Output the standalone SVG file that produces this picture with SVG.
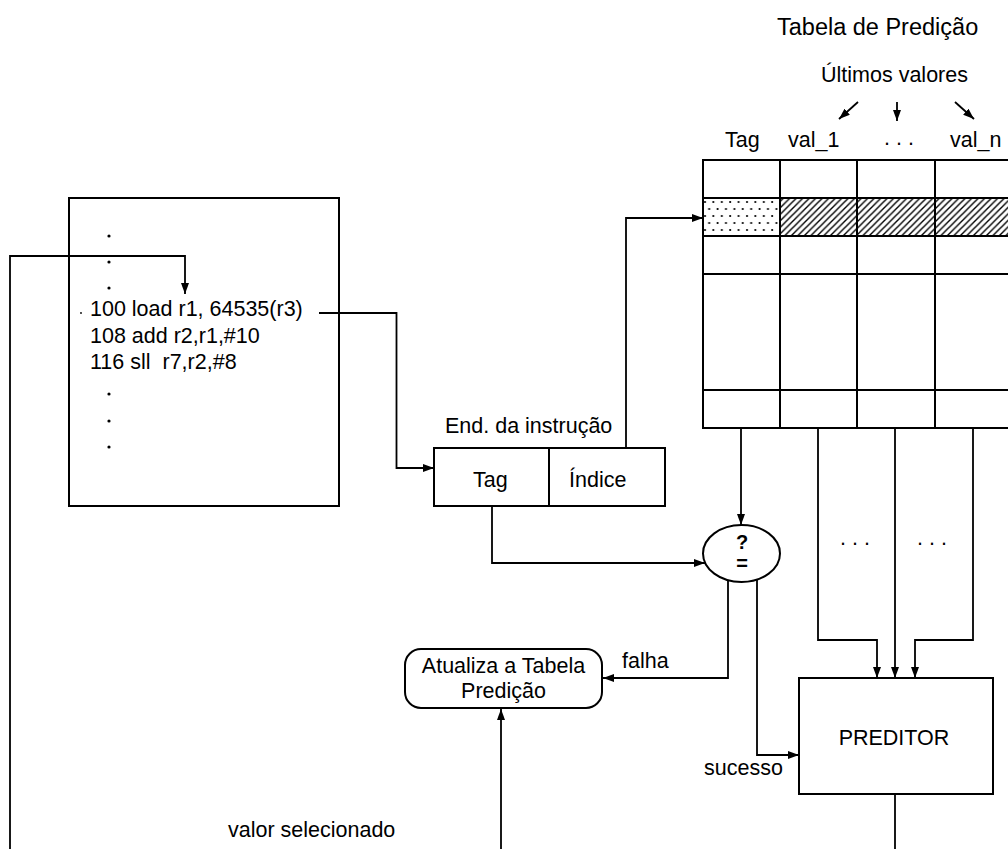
<svg xmlns="http://www.w3.org/2000/svg" width="1008" height="849" viewBox="0 0 1008 849">
<defs>
  <marker id="ah" markerUnits="userSpaceOnUse" markerWidth="11" markerHeight="8" refX="11" refY="4" orient="auto">
    <path d="M0,0 L11,4 L0,8 z" fill="#000"/>
  </marker>
  <pattern id="hatch" patternUnits="userSpaceOnUse" width="6.5" height="6.5">
    <path d="M-1,1 L1,-1 M0,6.5 L6.5,0 M5.5,7.5 L7.5,5.5" stroke="#000" stroke-width="1.4"/>
  </pattern>
  <pattern id="dots" patternUnits="userSpaceOnUse" x="703" y="198" width="8.4" height="14">
    <circle cx="2" cy="4" r="1.1" fill="#000"/>
    <circle cx="6.2" cy="11" r="1.1" fill="#000"/>
  </pattern>
</defs>
<style>
  text { font-family: "Liberation Sans", Arial, sans-serif; font-size: 21.5px; fill: #000; }
  .title { font-size: 23.5px; }
  .mid { text-anchor: middle; }
  .bold { font-weight: bold; font-size: 20px; }
  .box { fill: #fff; stroke: #000; stroke-width: 2; }
  .ln { fill: none; stroke: #000; stroke-width: 2; }
  .conn { fill: none; stroke: #000; stroke-width: 1.8; }
  .arr { marker-end: url(#ah); }
</style>
<rect width="1008" height="849" fill="#fff"/>

<g id="table">
  <text class="title" x="777" y="35">Tabela de Predição</text>
  <text x="821" y="82">Últimos valores</text>
  <text x="725" y="147">Tag</text>
  <text x="788" y="147">val_1</text>
  <text x="884" y="145">. . .</text>
  <text x="950" y="147">val_n</text>
  <rect x="703" y="198" width="77" height="38" fill="url(#dots)"/>
  <rect x="780" y="198" width="240" height="38" fill="url(#hatch)"/>
  <rect class="ln" x="703" y="160" width="320" height="268"/>
  <path class="ln" d="M780,160 V428 M857,160 V428 M935,160 V428 M703,198 H1012 M703,236 H1012 M703,274 H1012 M703,390 H1012"/>
</g>

<g id="code">
  <rect class="box" x="69" y="198" width="270" height="308"/>
  <circle cx="109" cy="236" r="1.6"/>
  <circle cx="109" cy="262" r="1.6"/>
  <circle cx="109" cy="288" r="1.6"/>
  <circle cx="81" cy="313" r="0.9"/>
  <text x="90" y="316">100 load r1, 64535(r3)</text>
  <text x="90" y="342.5">108 add r2,r1,#10</text>
  <text x="90" y="369" xml:space="preserve">116 sll  r7,r2,#8</text>
  <circle cx="109" cy="394" r="1.6"/>
  <circle cx="109" cy="421" r="1.6"/>
  <circle cx="109" cy="447" r="1.6"/>
</g>

<g id="endereco">
  <text x="445" y="433">End. da instrução</text>
  <rect class="box" x="434" y="448" width="231" height="58"/>
  <line class="ln" x1="549" y1="448" x2="549" y2="506"/>
  <text x="473" y="487">Tag</text>
  <text x="569" y="487">Índice</text>
</g>

<g id="comparador">
  <ellipse class="box" cx="741.5" cy="553.5" rx="38.5" ry="28.5"/>
  <text class="bold mid" x="742" y="549">?</text>
  <text class="bold mid" x="742" y="570">=</text>
</g>

<g id="atualiza">
  <rect class="box" x="405" y="649" width="197" height="59" rx="16" ry="16"/>
  <text class="mid" x="503.5" y="673">Atualiza a Tabela</text>
  <text class="mid" x="503.5" y="698">Predição</text>
</g>

<g id="preditor">
  <rect class="box" x="799" y="678" width="194" height="116"/>
  <text class="mid" x="894" y="745">PREDITOR</text>
</g>

<g id="connectors">
  <line class="conn arr" x1="858" y1="102" x2="839" y2="119"/>
  <line class="conn arr" x1="897" y1="102" x2="897" y2="121"/>
  <line class="conn arr" x1="955" y1="102" x2="974" y2="119"/>
  <polyline class="conn arr" points="10,849 10,256 185,256 185,294"/>
  <polyline class="conn arr" points="319,313 396.5,313 396.5,468 434,468"/>
  <polyline class="conn arr" points="626,448 626,218 703,218"/>
  <polyline class="conn arr" points="492,506 492,563 705,563"/>
  <line class="conn arr" x1="741" y1="428" x2="741" y2="525"/>
  <polyline class="conn arr" points="728,580 728,678 603,678"/>
  <polyline class="conn arr" points="757,580 757,755 799,755"/>
  <polyline class="conn arr" points="818,428 818,640 877,640 877,678"/>
  <line class="conn arr" x1="895" y1="428" x2="895" y2="678"/>
  <polyline class="conn arr" points="973,428 973,640 915,640 915,678"/>
  <line class="conn" x1="895" y1="794" x2="895" y2="849"/>
  <line class="conn arr" x1="501" y1="849" x2="501" y2="709"/>
  <text x="840" y="545">. . .</text>
  <text x="917" y="545">. . .</text>
  <text x="622" y="668">falha</text>
  <text x="704" y="775">sucesso</text>
  <text x="228" y="837">valor selecionado</text>
</g>
</svg>
